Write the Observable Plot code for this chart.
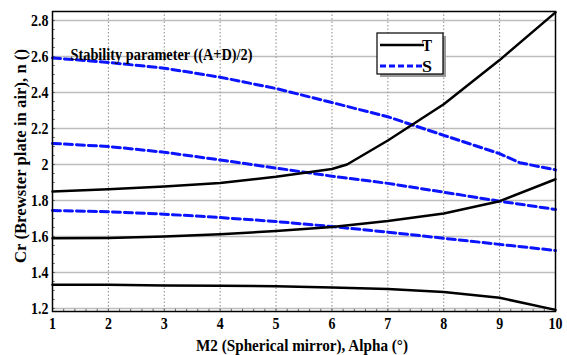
<!DOCTYPE html>
<html>
<head>
<meta charset="utf-8">
<script src="https://cdn.jsdelivr.net/npm/d3@7"></script>
<script src="https://cdn.jsdelivr.net/npm/@observablehq/plot@0.6"></script>
<style>
  html, body { margin: 0; padding: 0; background: #fff; }
  #chart { width: 567px; height: 355px; }
  #chart svg text { font-family: 'Liberation Serif', 'Times New Roman', serif !important; font-weight: bold !important; fill: #000; }
</style>
</head>
<body>
<div id="chart"></div>
<script>
const alpha = [1, 2, 3, 4, 5, 6, 7, 8, 9, 10];
const xTicks = [1, 2, 3, 4, 5, 6, 7, 8, 9, 10];
const yTicks = [1.2, 1.4, 1.6, 1.8, 2.0, 2.2, 2.4, 2.6, 2.8];

// Tangential (T) curves
const t1x = [1, 2, 3, 4, 5, 6, 6.27, 7, 8, 9, 10];
const t1y = [1.850, 1.862, 1.878, 1.897, 1.932, 1.975, 2.0, 2.133, 2.335, 2.580, 2.845];
const t2y = [1.590, 1.592, 1.600, 1.612, 1.630, 1.652, 1.686, 1.728, 1.796, 1.918];
const t3y = [1.332, 1.331, 1.328, 1.326, 1.323, 1.317, 1.308, 1.291, 1.259, 1.192];

// Sagittal (S) curves
const s1x = [1, 2, 3, 4, 5, 6, 7, 8, 9, 9.36, 10];
const s1y = [2.592, 2.567, 2.535, 2.485, 2.422, 2.344, 2.265, 2.162, 2.060, 2.010, 1.970];
const s2y = [2.117, 2.100, 2.068, 2.025, 1.980, 1.935, 1.895, 1.846, 1.796, 1.750];
const s3y = [1.744, 1.737, 1.724, 1.705, 1.683, 1.655, 1.624, 1.590, 1.556, 1.522];

const titleText = "Stability parameter ((A+D)/2)";
const xLabel = "M2 (Spherical mirror), Alpha (°)";
const yLabel = "Cr (Brewster plate in air), n ()";
const legendLabels = ["T", "S"];

const seriesT = [
  t1x.map((x, i) => ({x, y: t1y[i], id: "T1"})),
  alpha.map((x, i) => ({x, y: t2y[i], id: "T2"})),
  alpha.map((x, i) => ({x, y: t3y[i], id: "T3"}))
].flat();
const seriesS = [
  s1x.map((x, i) => ({x, y: s1y[i], id: "S1"})),
  alpha.map((x, i) => ({x, y: s2y[i], id: "S2"})),
  alpha.map((x, i) => ({x, y: s3y[i], id: "S3"}))
].flat();

const xMinor = d3.range(1, 10.001, 0.2);
const yMinor = d3.range(1.2, 2.851, 0.05);

const font = "'Liberation Serif', 'Times New Roman', serif";
const fmtY = d => d3.format("~g")(d);

const plot = Plot.plot({
  width: 567,
  height: 355,
  marginLeft: 52,
  marginRight: 12,
  marginTop: 11,
  marginBottom: 44,
  style: { fontFamily: font, fontWeight: "bold", fontSize: "17px", background: "#fff", color: "#000" },
  x: { domain: [1, 10], ticks: xTicks, tickFormat: d => String(d), label: null },
  y: { domain: [1.183, 2.85], ticks: yTicks, tickFormat: fmtY, label: null },
  marks: [
    Plot.gridY(yTicks, { stroke: "#bdbdbd", strokeOpacity: 1, strokeWidth: 1.5 }),
    Plot.gridX(xTicks, { stroke: "#8a8a8a", strokeOpacity: 1, strokeWidth: 1, strokeDasharray: "1.5,2" }),
    Plot.ruleX(xMinor, { x: d => d, y1: 1.183, y2: 1.195, stroke: "#444", strokeWidth: 0.8 }),
    Plot.ruleY(yMinor, { y: d => d, x1: 1, x2: 1.05, stroke: "#444", strokeWidth: 0.8 }),
    Plot.line(seriesS, { x: "x", y: "y", z: "id", stroke: "#0a14ff", strokeWidth: 3, strokeDasharray: "8,4", curve: "linear" }),
    Plot.line(seriesT, { x: "x", y: "y", z: "id", stroke: "#000", strokeWidth: 2.5, curve: "linear" }),
    Plot.axisX(xTicks, { tickSize: 0, tickPadding: 5, tickFormat: d => String(d), fontSize: 17, label: null }),
    Plot.axisY(yTicks, { tickSize: 0, tickPadding: 4, tickFormat: fmtY, fontSize: 17, label: null }),
    Plot.frame({ stroke: "#000", strokeWidth: 1.5 }),
    Plot.text([titleText], { frameAnchor: "top-left", dx: 18, dy: 36, textAnchor: "start", fontSize: 17, fill: "#000" })
  ]
});

document.getElementById("chart").appendChild(plot);
const svg = d3.select(plot);

// condensed bold serif look for every Plot text
svg.selectAll("text").each(function() {
  this.style.fontSize = "17px";
  const len = this.getComputedTextLength();
  if (len > 0) {
    const target = this.textContent === titleText ? 182 : len * 0.82;
    this.setAttribute("textLength", target.toFixed(2));
    this.setAttribute("lengthAdjust", "spacingAndGlyphs");
  }
});

// x axis title
svg.append("text")
  .attr("x", 302).attr("y", 351)
  .attr("text-anchor", "middle")
  .style("font-size", "16.5px")
  .attr("textLength", 212).attr("lengthAdjust", "spacingAndGlyphs")
  .text(xLabel);
// y axis title
svg.append("text")
  .attr("transform", "translate(26,156) rotate(-90)")
  .attr("text-anchor", "middle")
  .style("font-size", "16.5px")
  .attr("textLength", 214).attr("lengthAdjust", "spacingAndGlyphs")
  .text(yLabel);

// legend
const lg = svg.append("g");
lg.append("rect").attr("x", 380).attr("y", 36).attr("width", 66).attr("height", 41).attr("fill", "#9a9a9a");
lg.append("rect").attr("x", 377).attr("y", 33).attr("width", 66).attr("height", 41).attr("fill", "#fff").attr("stroke", "#000").attr("stroke-width", 1.2);
lg.append("line").attr("x1", 380).attr("x2", 424).attr("y1", 45).attr("y2", 45).attr("stroke", "#000").attr("stroke-width", 2.5);
lg.append("line").attr("x1", 380).attr("x2", 424).attr("y1", 66).attr("y2", 66).attr("stroke", "#0a14ff").attr("stroke-width", 3).attr("stroke-dasharray", "6,3");
legendLabels.forEach((t, i) => {
  lg.append("text").attr("x", 427).attr("y", 51 + i * 21).style("font-size", "17px")
    .attr("textLength", 10).attr("lengthAdjust", "spacingAndGlyphs").text(t);
});
</script>
</body>
</html>
